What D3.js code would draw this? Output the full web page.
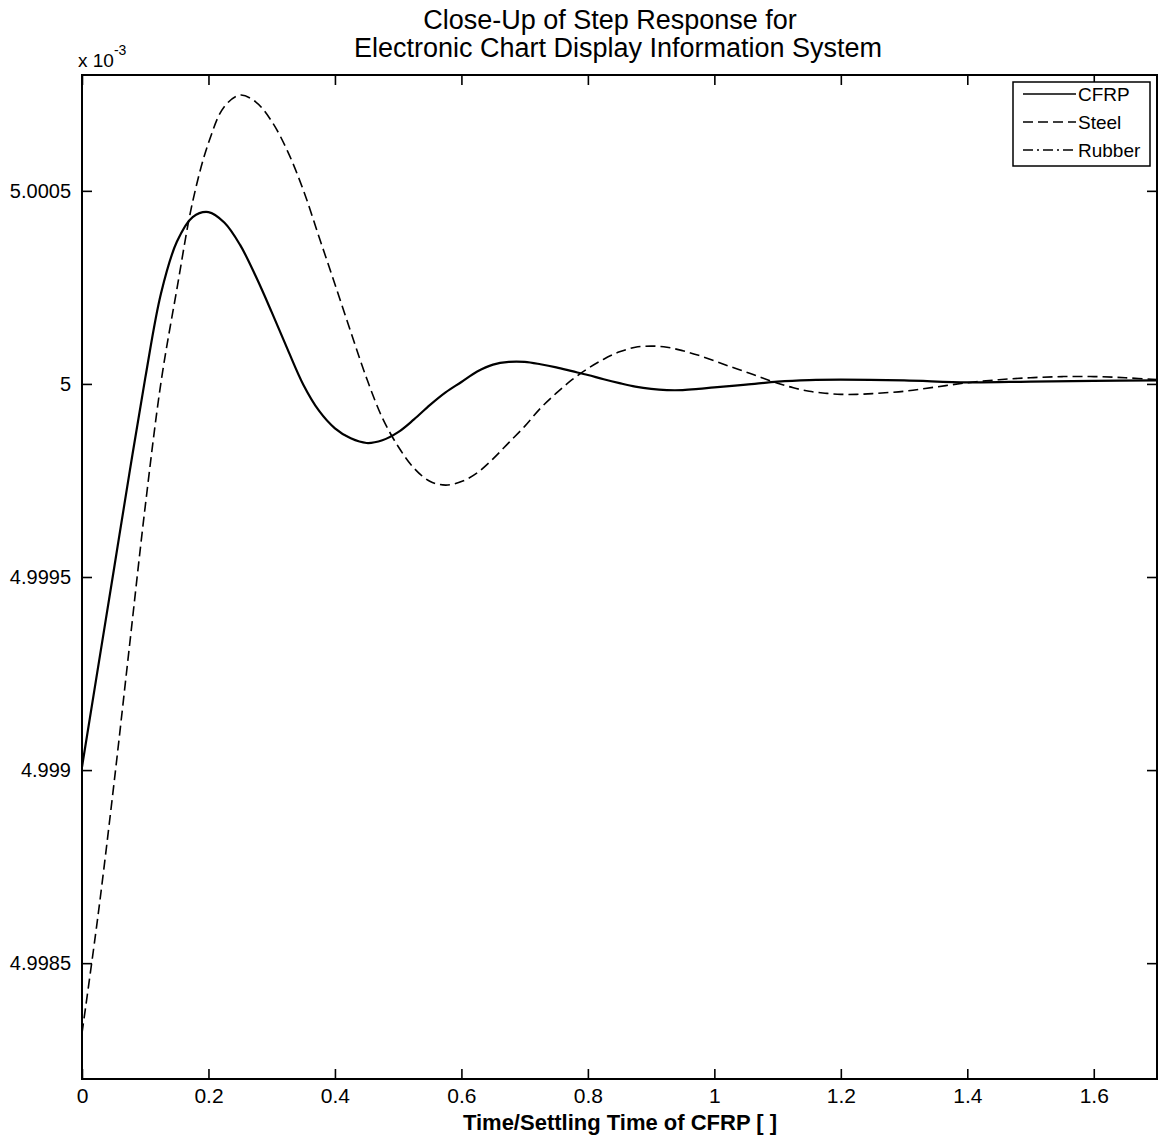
<!DOCTYPE html>
<html>
<head>
<meta charset="utf-8">
<script src="https://cdn.jsdelivr.net/npm/d3@7"></script>
<style>
  html, body { margin: 0; padding: 0; background: #fff; }
  svg { display: block; font-family: "Liberation Sans", Arial, sans-serif; }
</style>
</head>
<body>
<svg id="chart" width="1159" height="1141"></svg>
<script>
// ---- Data (y values are shown in units of 1e-3, as on the axis) ----
const titleLines = ["Close-Up of Step Response for", "Electronic Chart Display Information System"];
const xLabel = "Time/Settling Time of CFRP [ ]";
const seriesNames = ["CFRP", "Steel", "Rubber"];

const xTicks = [0, 0.2, 0.4, 0.6, 0.8, 1, 1.2, 1.4, 1.6];
const xTickLabels = ["0", "0.2", "0.4", "0.6", "0.8", "1", "1.2", "1.4", "1.6"];
const yTicks = [4.9985, 4.999, 4.9995, 5, 5.0005];
const yTickLabels = ["4.9985", "4.999", "4.9995", "5", "5.0005"];

const tCFRP = [0, 0.025, 0.05, 0.075, 0.1, 0.125, 0.15, 0.175, 0.2, 0.225, 0.25, 0.275, 0.3, 0.325, 0.35, 0.375, 0.4, 0.425, 0.45, 0.475, 0.5, 0.525, 0.55, 0.575, 0.6, 0.625, 0.65, 0.675, 0.7, 0.725, 0.75, 0.775, 0.8, 0.825, 0.85, 0.875, 0.9, 0.925, 0.95, 0.975, 1.0, 1.05, 1.1, 1.15, 1.2, 1.3, 1.4, 1.5, 1.6, 1.7];
const vCFRP = [4.999008, 4.999262, 4.999515, 4.999769, 5.000015, 5.000235, 5.000368, 5.000432, 5.000445, 5.000418, 5.000360, 5.000278, 5.000186, 5.000090, 4.999998, 4.999930, 4.999885, 4.999859, 4.999847, 4.999854, 4.999875, 4.999908, 4.999945, 4.999978, 5.000005, 5.000032, 5.000050, 5.000057, 5.000057, 5.000051, 5.000043, 5.000033, 5.000023, 5.000012, 5.000002, 4.999993, 4.999987, 4.999984, 4.999984, 4.999987, 4.999991, 4.999998, 5.000006, 5.000010, 5.000011, 5.000009, 5.000004, 5.000006, 5.000008, 5.000009];

const tSteel = [0, 0.025, 0.05, 0.075, 0.1, 0.125, 0.15, 0.175, 0.2, 0.225, 0.25, 0.275, 0.3, 0.325, 0.35, 0.375, 0.4, 0.425, 0.45, 0.475, 0.5, 0.525, 0.55, 0.575, 0.6, 0.625, 0.65, 0.675, 0.7, 0.725, 0.75, 0.775, 0.8, 0.825, 0.85, 0.875, 0.9, 0.925, 0.95, 0.975, 1.0, 1.025, 1.05, 1.075, 1.1, 1.125, 1.15, 1.175, 1.2, 1.225, 1.25, 1.3, 1.35, 1.4, 1.45, 1.5, 1.55, 1.6, 1.65, 1.7];
const vSteel = [4.998319, 4.998619, 4.998957, 4.999320, 4.999683, 5.000005, 5.000245, 5.000472, 5.000624, 5.000718, 5.000748, 5.000730, 5.000680, 5.000603, 5.000502, 5.000380, 5.000258, 5.000135, 5.000015, 4.999912, 4.999838, 4.999782, 4.999748, 4.999738, 4.999747, 4.999770, 4.999806, 4.999848, 4.999890, 4.999937, 4.999976, 5.000011, 5.000040, 5.000064, 5.000083, 5.000095, 5.000098, 5.000095, 5.000086, 5.000074, 5.000060, 5.000045, 5.000031, 5.000016, 5.000002, 4.999990, 4.999981, 4.999976, 4.999973, 4.999973, 4.999975, 4.999981, 4.999992, 5.000003, 5.000011, 5.000016, 5.000019, 5.000019, 5.000016, 5.000011];

// Rubber response lies outside this close-up window (legend entry only)
const tRubber = [];
const vRubber = [];

// ---- Layout ----
const svg = d3.select("#chart");
const L = 82, R = 1157, T = 75, B = 1079;

const x = d3.scaleLinear().domain([0, 1.7]).range([L, R]);
const y = d3.scaleLinear().domain([4.9982, 5.0008]).range([B, T]);

svg.append("rect").attr("x", L).attr("y", T).attr("width", R - L).attr("height", B - T)
  .attr("fill", "#fff");

const tickLen = 10;
const axisStyle = g => {
  g.select(".domain").remove();
  g.selectAll(".tick line").attr("stroke", "#000").attr("stroke-width", 1.6);
  g.selectAll(".tick text").attr("fill", "#000").attr("font-size", 20)
    .attr("font-family", "'Liberation Sans', Arial, sans-serif");
};

// bottom
svg.append("g").attr("transform", `translate(0,${B})`)
  .call(d3.axisTop(x).tickValues(xTicks).tickSize(tickLen).tickFormat((d, i) => xTickLabels[i]))
  .call(axisStyle)
  .call(g => g.selectAll(".tick text").attr("y", 24).attr("dy", null).attr("font-size", 21));
// top
svg.append("g").attr("transform", `translate(0,${T})`)
  .call(d3.axisBottom(x).tickValues(xTicks).tickSize(tickLen).tickFormat(""))
  .call(axisStyle);
// left
svg.append("g").attr("transform", `translate(${L},0)`)
  .call(d3.axisRight(y).tickValues(yTicks).tickSize(tickLen).tickFormat((d, i) => yTickLabels[i]))
  .call(axisStyle)
  .call(g => g.selectAll(".tick text").attr("x", -11).attr("text-anchor", "end"));
// right
svg.append("g").attr("transform", `translate(${R},0)`)
  .call(d3.axisLeft(y).tickValues(yTicks).tickSize(tickLen).tickFormat(""))
  .call(axisStyle);

// frame
svg.append("rect").attr("x", L).attr("y", T).attr("width", R - L).attr("height", B - T)
  .attr("fill", "none").attr("stroke", "#000").attr("stroke-width", 2);

// lines
const clipId = "plotclip";
svg.append("clipPath").attr("id", clipId).append("rect")
  .attr("x", L).attr("y", T).attr("width", R - L).attr("height", B - T);

const line = d3.line().x(d => x(d[0])).y(d => y(d[1])).curve(d3.curveCatmullRom.alpha(0.5));
const series = [
  { name: seriesNames[0], t: tCFRP, v: vCFRP, dash: null, w: 2.2 },
  { name: seriesNames[1], t: tSteel, v: vSteel, dash: "10,5", w: 1.6 },
  { name: seriesNames[2], t: tRubber, v: vRubber, dash: "10,4,2,4", w: 1.6 }
];
const gLines = svg.append("g").attr("clip-path", `url(#${clipId})`);
series.forEach(s => {
  if (!s.t.length) return;
  gLines.append("path")
    .datum(s.t.map((t, i) => [t, s.v[i]]))
    .attr("d", line)
    .attr("fill", "none")
    .attr("stroke", "#000")
    .attr("stroke-width", s.w)
    .attr("stroke-dasharray", s.dash);
});

// exponent label
const exp = svg.append("text").attr("x", 78).attr("y", 67).attr("font-size", 19).attr("fill", "#000");
exp.append("tspan").text("x 10");
exp.append("tspan").attr("dy", -12).attr("font-size", 14).text("-3");

// title
svg.append("text").attr("x", 610).attr("y", 29).attr("text-anchor", "middle")
  .attr("font-size", 27).attr("fill", "#000").text(titleLines[0]);
svg.append("text").attr("x", 618).attr("y", 57).attr("text-anchor", "middle")
  .attr("font-size", 27).attr("fill", "#000").text(titleLines[1]);

// x label
svg.append("text").attr("x", 620).attr("y", 1130).attr("text-anchor", "middle")
  .attr("font-size", 22).attr("font-weight", "bold").attr("fill", "#000").text(xLabel);

// legend
const lg = svg.append("g");
lg.append("rect").attr("x", 1013).attr("y", 82).attr("width", 137).attr("height", 84)
  .attr("fill", "#fff").attr("stroke", "#000").attr("stroke-width", 1.5);
series.forEach((s, i) => {
  const yy = 94 + i * 28;
  lg.append("line").attr("x1", 1023).attr("x2", 1076).attr("y1", yy).attr("y2", yy)
    .attr("stroke", "#000").attr("stroke-width", 1.5).attr("stroke-dasharray", s.dash);
  lg.append("text").attr("x", 1078).attr("y", yy + 7).attr("font-size", 19).attr("fill", "#000").text(s.name);
});
</script>
</body>
</html>
